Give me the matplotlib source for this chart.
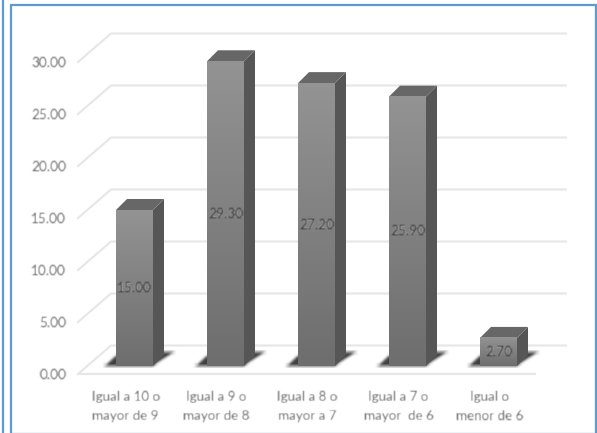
import numpy as np
import matplotlib
matplotlib.use("Agg")
import matplotlib.pyplot as plt
from matplotlib.patches import Polygon, Rectangle

categories = ['Igual a 10 o\nmayor de 9', 'Igual a 9 o\nmayor de 8', 'Igual a 8 o\nmayor a 7',
              'Igual a 7 o\nmayor  de 6', 'Igual o\nmenor de 6']
values = [15.00, 29.30, 27.20, 25.90, 2.70]
y_ticks = [0, 5, 10, 15, 20, 25, 30]

W, H = 597, 433
plt.rcParams['font.family'] = ['Lato', 'DejaVu Sans']

# one pixel in data units (91 px per category, 10.4 px per y unit)
px = 1 / 91
py = 1 / 10.4
bar_w = 37 * px
face_dx, face_dy = 9 * px, 8 * py    # bars stand part way back on the floor
side_dx, side_dy = 11 * px, 11 * py  # depth of a bar
back_dx, back_dy = 31 * px, 28.5 * py  # depth of the floor
text_col = '#606060'
grid_col = '#e6e6e6'


def blur(img, kernel):
    # separable blur, used to soften the shadows and the text
    pad = len(kernel) // 2 + 2
    out = np.pad(img, ((pad, pad), (pad, pad), (0, 0)))
    for axis in (0, 1):
        out = np.apply_along_axis(lambda m: np.convolve(m, kernel, mode='same'), axis, out)
    return out, -pad, -pad


def soft_text(img, dpi):
    return blur(img, np.array([0.2, 0.6, 0.2]))


def soft_shadow(img, dpi):
    return blur(img, np.ones(5) / 5)


fig = plt.figure(figsize=(W / 100, H / 100), dpi=100)
fig.patch.set_facecolor('white')
ax = fig.add_axes([80 / W, (H - 374) / H, 455 / W, 312 / H])
ax.set_xlim(-0.5, 4.5)
ax.set_ylim(0, 30)
ax.patch.set_alpha(0)
for s in ax.spines.values():
    s.set_visible(False)

# gridlines with the slanted left wall part
x0, x1 = ax.get_xlim()
for t in y_ticks:
    ax.plot([x0 - 2 * px, x0 + back_dx, x1 + back_dx], [t, t + back_dy, t + back_dy],
            color=grid_col, lw=1.5, clip_on=False, zorder=1)
ax.plot([x0, x1], [0, 0], color=grid_col, lw=1.5, clip_on=False, zorder=1)

for i, v in enumerate(values):
    xl = i - bar_w / 2 + face_dx
    xr = i + bar_w / 2 + face_dx
    base = face_dy
    top = base + v

    # floor shadow
    sh = Polygon([(xl - 12 * px, base), (xl, base + 11 * py), (xr + side_dx, base + 14 * py),
                  (xr + 22 * px, base + 14 * py), (xr, base)],
                 closed=True, fc='#202020', ec='none', alpha=0.85, zorder=2, clip_on=False)
    ax.add_patch(sh)
    sh.set_agg_filter(soft_shadow)

    # side and top faces
    ax.add_patch(Polygon([(xr, base), (xr + side_dx, base + side_dy), (xr + side_dx, top + side_dy), (xr, top)],
                         closed=True, fc='#565656', ec='none', zorder=3, clip_on=False))
    ax.add_patch(Polygon([(xl, top), (xl + side_dx, top + side_dy), (xr + side_dx, top + side_dy), (xr, top)],
                         closed=True, fc='#676767', ec='none', zorder=3, clip_on=False))

    # front face with a vertical gradient
    bar = ax.bar(i + face_dx, v, width=bar_w, bottom=base, color='#808080', zorder=3, clip_on=False)[0]
    grad = ax.imshow(np.linspace(0, 1, 64).reshape(-1, 1), extent=(xl, xr, base, top), origin='lower',
                     cmap=matplotlib.colors.LinearSegmentedColormap.from_list('g', ['#6e6e6e', '#939393']),
                     aspect='auto', zorder=4, clip_on=False)

    t = ax.text(i + face_dx, base + v / 2, f'{v:.2f}', ha='center', va='center',
                fontsize=9.8, color='#3f3f3f', zorder=5)
    t.set_agg_filter(soft_text)

ax.set_xlim(x0, x1)
ax.set_ylim(0, 30)
ax.set_xticks(range(len(categories)))
ax.set_xticklabels(categories, linespacing=1.75)
ax.set_yticks(y_ticks)
ax.set_yticklabels([f'{t:.2f}' for t in y_ticks])
ax.tick_params(axis='both', length=0, labelsize=9.8, labelcolor=text_col)
ax.tick_params(axis='x', pad=12, labelsize=9.6)
ax.tick_params(axis='y', pad=10)
for lab in ax.get_xticklabels() + ax.get_yticklabels():
    lab.set_agg_filter(soft_text)

# blue picture frames
blue = '#5b9bd5'
fig.add_artist(Rectangle((11 / W, -1 / H), (596 - 11) / W, (H - 5 + 1) / H, transform=fig.transFigure,
                         fill=False, ec=blue, lw=1.6))
fig.add_artist(plt.Line2D([3 / W, 3 / W], [0, 1], transform=fig.transFigure, color=blue, lw=1.6))

fig.savefig('out.png', dpi=100)
